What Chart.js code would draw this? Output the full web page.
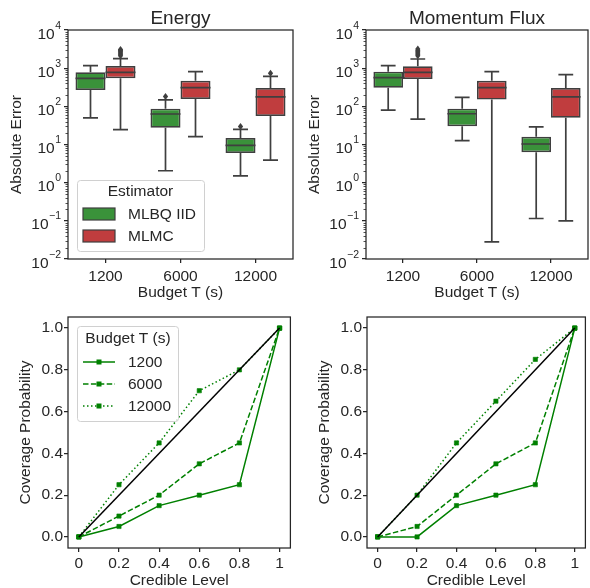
<!DOCTYPE html>
<html>
<head>
<meta charset="utf-8">
<script src="https://cdn.jsdelivr.net/npm/chart.js@4.4.1/dist/chart.umd.min.js"></script>
<style>
  html, body { margin: 0; padding: 0; background: #fff; }
  #fig { position: relative; width: 590px; height: 588px; overflow: hidden; background: #fff; }
  #fig canvas { position: absolute; }
</style>
</head>
<body>
<div id="fig">
  <canvas id="c-energy" width="295" height="310" style="left:0;top:0"></canvas>
  <canvas id="c-momentum" width="295" height="310" style="left:295px;top:0"></canvas>
  <canvas id="c-cov-energy" width="295" height="300" style="left:0;top:295px"></canvas>
  <canvas id="c-cov-momentum" width="295" height="300" style="left:295px;top:295px"></canvas>
</div>
<script>
// 색/글꼴 (seaborn ticks 스타일 흉내)
const INK = '#262626';
const BOX_GREEN = '#3a923a';
const BOX_RED = '#c03d3e';
const BOX_LINE = '#3f3f3f';
const LINE_GREEN = '#008000';
const FONT = '"Liberation Sans", Arial, "DejaVu Sans", sans-serif';

Chart.defaults.font.family = FONT;
Chart.defaults.font.size = 15.5;
Chart.defaults.color = INK;

// ---- data ----
const budgets = ['1200', '6000', '12000'];
const estimators = ['MLBQ IID', 'MLMC'];
const logExponents = [-2, -1, 0, 1, 2, 3, 4];

// Energy, MLBQ IID
const enMlbqLow  = [50, 2.05, 1.5];
const enMlbqQ1   = [268, 27.6, 6.0];
const enMlbqMed  = [543, 63, 9.5];
const enMlbqQ3   = [780, 87, 14.8];
const enMlbqHigh = [1160, 147, 25];
const enMlbqOut  = [[], [180], [29.5]];
// Energy, MLMC
const enMlmcLow  = [24.4, 16, 3.9];
const enMlmcQ1   = [543, 155, 56];
const enMlmcMed  = [780, 310, 178];
const enMlmcQ3   = [1140, 470, 300];
const enMlmcHigh = [1770, 810, 610];
const enMlmcOut  = [[2100, 2300, 2500, 2700, 2900, 3100], [], [740]];

// Momentum flux, MLBQ IID
const mfMlbqLow  = [80, 12.6, 0.115];
const mfMlbqQ1   = [308, 30, 6.3];
const mfMlbqMed  = [563, 64, 10.3];
const mfMlbqQ3   = [810, 87, 16];
const mfMlbqHigh = [1160, 172, 29];
const mfMlbqOut  = [[], [], []];
// Momentum flux, MLMC
const mfMlmcLow  = [46.5, 0.028, 0.1];
const mfMlmcQ1   = [520, 150, 50];
const mfMlmcMed  = [780, 310, 178];
const mfMlmcQ3   = [1117, 470, 302];
const mfMlmcHigh = [1740, 810, 675];
const mfMlmcOut  = [[2100, 2300, 2500, 2700, 2900, 3200], [], []];

// coverage
const levels = [0, 0.2, 0.4, 0.6, 0.8, 1];
const levelTicks = [0, 0.2, 0.4, 0.6, 0.8, 1];
const probTicks = [0, 0.2, 0.4, 0.6, 0.8, 1];
const diagonal = [0, 1];
const enCov1200  = [0, 0.05, 0.15, 0.2, 0.25, 1];
const enCov6000  = [0, 0.1, 0.2, 0.35, 0.45, 1];
const enCov12000 = [0, 0.25, 0.45, 0.7, 0.8, 1];
const mfCov1200  = [0, 0, 0.15, 0.2, 0.25, 1];
const mfCov6000  = [0, 0.05, 0.2, 0.35, 0.45, 1];
const mfCov12000 = [0, 0.2, 0.45, 0.65, 0.85, 1];

// ---- helpers ----
function framePlugin(minorLog) {
  return {
    id: 'frame',
    afterDraw(chart) {
      const { ctx, chartArea: a } = chart;
      ctx.save();
      ctx.strokeStyle = INK;
      ctx.lineWidth = 1.25;
      ctx.strokeRect(a.left, a.top, a.right - a.left, a.bottom - a.top);
      if (minorLog) {
        const y = chart.scales.y;
        ctx.lineWidth = 0.8;
        ctx.beginPath();
        for (let e = -2; e < 4; e++) {
          for (let k = 2; k < 10; k++) {
            const py = Math.round(y.getPixelForValue(k * Math.pow(10, e))) + 0.5;
            ctx.moveTo(a.left - 2.5, py);
            ctx.lineTo(a.left, py);
          }
        }
        ctx.stroke();
      }
      ctx.restore();
    }
  };
}

// 10^n 라벨: 밑 "10" + 작은 위첨자 지수 (y 스케일 픽셀 위치에)
const powLabels = {
  id: 'powLabels',
  afterDraw(chart) {
    const { ctx, chartArea: a } = chart;
    const y = chart.scales.y;
    const right = a.left - 7;
    ctx.save();
    ctx.fillStyle = INK;
    ctx.textAlign = 'right';
    ctx.textBaseline = 'alphabetic';
    logExponents.forEach(e => {
      const py = y.getPixelForValue(Math.pow(10, e));
      const exp = e < 0 ? '\u2212' + (-e) : String(e);
      ctx.font = '10.5px ' + FONT;
      const ew = ctx.measureText(exp).width;
      ctx.fillText(exp, right, py - 1.5);
      ctx.font = '15.5px ' + FONT;
      ctx.fillText('10', right - ew - 0.5, py + 8.5);
    });
    ctx.restore();
  }
};

function titlePlugin(text) {
  return {
    id: 'panelTitle',
    afterDraw(chart) {
      const { ctx, chartArea: a } = chart;
      ctx.save();
      ctx.font = '19px ' + FONT;
      ctx.fillStyle = INK;
      ctx.textAlign = 'center';
      ctx.textBaseline = 'alphabetic';
      ctx.fillText(text, (a.left + a.right) / 2, 24);
      ctx.restore();
    }
  };
}

// 수염, 중앙값, 이상치 — 막대 요소 위치 + y 스케일로 그림
const boxParts = {
  id: 'boxParts',
  afterDatasetsDraw(chart) {
    const ctx = chart.ctx, ys = chart.scales.y;
    const py = v => ys.getPixelForValue(v);
    ctx.save();
    ctx.strokeStyle = BOX_LINE;
    ctx.fillStyle = BOX_LINE;
    ctx.lineWidth = 1.7;
    chart.data.datasets.forEach((ds, di) => {
      const meta = chart.getDatasetMeta(di);
      meta.data.forEach((bar, i) => {
        const x = bar.x, hw = bar.width / 2;
        ctx.beginPath();
        ctx.moveTo(x, py(ds.q3[i])); ctx.lineTo(x, py(ds.hi[i]));
        ctx.moveTo(x, py(ds.q1[i])); ctx.lineTo(x, py(ds.lo[i]));
        ctx.moveTo(x - hw / 2, py(ds.hi[i])); ctx.lineTo(x + hw / 2, py(ds.hi[i]));
        ctx.moveTo(x - hw / 2, py(ds.lo[i])); ctx.lineTo(x + hw / 2, py(ds.lo[i]));
        ctx.moveTo(x - hw, py(ds.med[i])); ctx.lineTo(x + hw, py(ds.med[i]));
        ctx.stroke();
        ds.out[i].forEach(v => {
          const y = py(v);
          ctx.beginPath();
          ctx.moveTo(x, y - 3.5); ctx.lineTo(x + 2.6, y);
          ctx.lineTo(x, y + 3.5); ctx.lineTo(x - 2.6, y);
          ctx.closePath();
          ctx.fill();
        });
      });
    });
    ctx.restore();
  }
};

function legendBox(ctx, x, y, w, h) {
  ctx.beginPath();
  ctx.roundRect(x, y, w, h, 3);
  ctx.fillStyle = 'rgba(255,255,255,0.8)';
  ctx.fill();
  ctx.strokeStyle = '#d0d0d0';
  ctx.lineWidth = 1;
  ctx.stroke();
}

const estimatorLegend = {
  id: 'estimatorLegend',
  afterDraw(chart) {
    const ctx = chart.ctx;
    ctx.save();
    legendBox(ctx, 77.5, 180.5, 127, 71);
    ctx.font = '15.5px ' + FONT;
    ctx.fillStyle = INK;
    ctx.textAlign = 'center';
    ctx.textBaseline = 'middle';
    ctx.fillText('Estimator', 140.5, 192);
    const fills = [BOX_GREEN, BOX_RED];
    estimators.forEach((name, i) => {
      const cy = 214 + i * 22;
      ctx.fillStyle = fills[i];
      ctx.fillRect(83, cy - 6, 32, 12);
      ctx.strokeStyle = BOX_LINE;
      ctx.lineWidth = 1.2;
      ctx.strokeRect(83, cy - 6, 32, 12);
      ctx.fillStyle = INK;
      ctx.textAlign = 'left';
      ctx.fillText(name, 128, cy + 1);
    });
    ctx.restore();
  }
};

function boxChart(id, title, yw, yTitlePad, stats, withLegend) {
  const [g, r] = stats;
  const plugins = [boxParts, framePlugin(true), powLabels, titlePlugin(title)];
  if (withLegend) plugins.push(estimatorLegend);
  return new Chart(document.getElementById(id), {
    type: 'bar',
    data: {
      labels: budgets,
      datasets: [
        { label: estimators[0], data: budgets.map((_, i) => [g.q1[i], g.q3[i]]),
          backgroundColor: BOX_GREEN, borderColor: BOX_LINE, borderWidth: 1.7, borderSkipped: false,
          q1: g.q1, q3: g.q3, med: g.med, lo: g.lo, hi: g.hi, out: g.out },
        { label: estimators[1], data: budgets.map((_, i) => [r.q1[i], r.q3[i]]),
          backgroundColor: BOX_RED, borderColor: BOX_LINE, borderWidth: 1.7, borderSkipped: false,
          q1: r.q1, q3: r.q3, med: r.med, lo: r.lo, hi: r.hi, out: r.out }
      ]
    },
    options: {
      responsive: false, animation: false, devicePixelRatio: 1,
      layout: { padding: { left: 0, top: 30, right: 2, bottom: 0 } },
      categoryPercentage: 0.8, barPercentage: 1.0,
      plugins: { legend: { display: false }, tooltip: { enabled: false } },
      scales: {
        x: {
          grid: { offset: false, drawOnChartArea: false, tickLength: 4, color: INK, lineWidth: 1.25 },
          border: { display: false },
          ticks: { padding: 4 },
          title: { display: true, text: 'Budget T (s)', padding: { top: 0, bottom: 7.7 } },
          afterFit: s => { s.height = 51; }
        },
        y: {
          type: 'logarithmic', min: 0.01, max: 10000,
          grid: { drawOnChartArea: false, tickLength: 4, color: INK, lineWidth: 1.25 },
          border: { display: false },
          ticks: { display: false },
          afterBuildTicks: s => { s.ticks = logExponents.map(e => ({ value: Math.pow(10, e) })); },
          title: { display: true, text: 'Absolute Error', padding: { top: yTitlePad, bottom: 0 } },
          afterFit: s => { s.width = yw; }
        }
      }
    },
    plugins
  });
}

const budgetLegend = {
  id: 'budgetLegend',
  afterDraw(chart) {
    const ctx = chart.ctx;
    const dashes = [[], [5.5, 2.4], [1.5, 2.5]];
    ctx.save();
    legendBox(ctx, 77.5, 31.5, 101, 95);
    ctx.font = '15.5px ' + FONT;
    ctx.fillStyle = INK;
    ctx.textAlign = 'center';
    ctx.textBaseline = 'middle';
    ctx.fillText('Budget T (s)', 128, 44);
    budgets.forEach((b, i) => {
      const cy = 67 + i * 22;
      ctx.strokeStyle = LINE_GREEN;
      ctx.lineWidth = 1.5;
      ctx.setLineDash(dashes[i]);
      ctx.beginPath();
      ctx.moveTo(83, cy); ctx.lineTo(115, cy);
      ctx.stroke();
      ctx.setLineDash([]);
      ctx.fillStyle = LINE_GREEN;
      ctx.fillRect(96.5, cy - 2.5, 5, 5);
      ctx.fillStyle = INK;
      ctx.textAlign = 'left';
      ctx.fillText(b, 128, cy + 1);
    });
    ctx.restore();
  }
};

function coverageChart(id, yw, rightPad, yTitlePad, series, withLegend) {
  const pts = vals => levels.map((x, i) => ({ x, y: vals[i] }));
  const dashes = [[], [5.5, 2.4], [1.5, 2.5]];
  const lines = series.map((vals, i) => ({
    label: budgets[i], data: pts(vals), showLine: true,
    borderColor: LINE_GREEN, backgroundColor: LINE_GREEN, borderWidth: 1.5, borderDash: dashes[i],
    pointStyle: 'rect', pointRadius: 3, pointBorderWidth: 0.6
  }));
  const plugins = [framePlugin(false)];
  if (withLegend) plugins.push(budgetLegend);
  return new Chart(document.getElementById(id), {
    type: 'scatter',
    data: {
      datasets: [
        { label: 'ideal', data: diagonal.map(v => ({ x: v, y: v })), showLine: true,
          borderColor: '#000000', borderWidth: 1.5, pointRadius: 0 },
        ...lines
      ]
    },
    options: {
      responsive: false, animation: false, devicePixelRatio: 1,
      layout: { padding: { left: 0, top: 22, right: rightPad, bottom: 0 } },
      plugins: { legend: { display: false }, tooltip: { enabled: false } },
      scales: {
        x: {
          type: 'linear', min: -0.054, max: 1.054,
          grid: { drawOnChartArea: false, tickLength: 4, color: INK, lineWidth: 1.25 },
          border: { display: false },
          ticks: { padding: 2, callback: v => (v === 0 || v === 1) ? String(v) : v.toFixed(1) },
          afterBuildTicks: s => { s.ticks = levelTicks.map(v => ({ value: v })); },
          title: { display: true, text: 'Credible Level', padding: { top: 0, bottom: 4.7 } },
          afterFit: s => { s.height = 47; }
        },
        y: {
          min: -0.053, max: 1.053,
          grid: { drawOnChartArea: false, tickLength: 4, color: INK, lineWidth: 1.25 },
          border: { display: false },
          ticks: { padding: 1, callback: v => v.toFixed(1) },
          afterBuildTicks: s => { s.ticks = probTicks.map(v => ({ value: v })); },
          title: { display: true, text: 'Coverage Probability', padding: { top: yTitlePad, bottom: 0 } },
          afterFit: s => { s.width = yw; }
        }
      }
    },
    plugins
  });
}

boxChart('c-energy', 'Energy', 68, 7.2, [
  { lo: enMlbqLow, q1: enMlbqQ1, med: enMlbqMed, q3: enMlbqQ3, hi: enMlbqHigh, out: enMlbqOut },
  { lo: enMlmcLow, q1: enMlmcQ1, med: enMlmcMed, q3: enMlmcQ3, hi: enMlmcHigh, out: enMlmcOut }
], true);
boxChart('c-momentum', 'Momentum Flux', 71, 10.7, [
  { lo: mfMlbqLow, q1: mfMlbqQ1, med: mfMlbqMed, q3: mfMlbqQ3, hi: mfMlbqHigh, out: mfMlbqOut },
  { lo: mfMlmcLow, q1: mfMlmcQ1, med: mfMlmcMed, q3: mfMlmcQ3, hi: mfMlmcHigh, out: mfMlmcOut }
], false);
coverageChart('c-cov-energy', 68, 2, 16.7, [enCov1200, enCov6000, enCov12000], true);
coverageChart('c-cov-momentum', 72, 1, 20.7, [mfCov1200, mfCov6000, mfCov12000], false);
</script>
</body>
</html>
